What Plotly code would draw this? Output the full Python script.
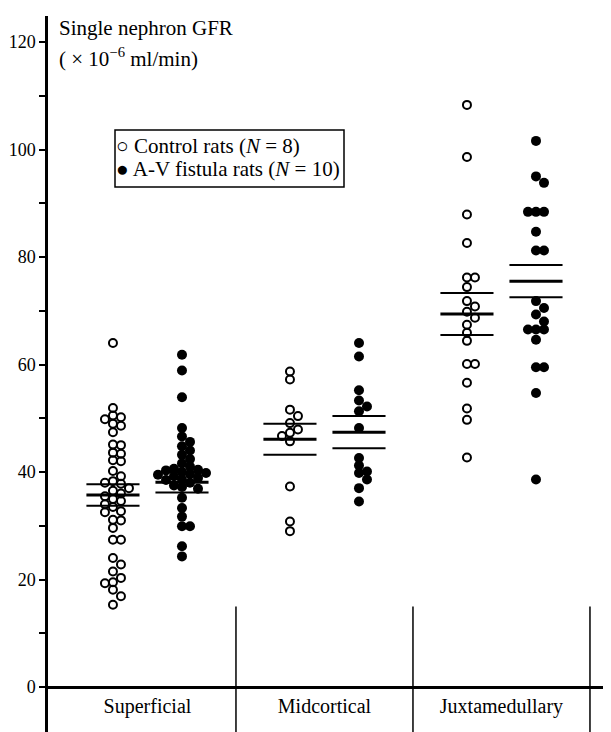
import plotly.graph_objects as go

# ---------------- data ----------------
categories = ["Superficial", "Midcortical", "Juxtamedullary"]

sup_control = [64.0, 51.9, 50.5, 50.2, 49.8, 49.0, 48.6, 47.4, 45.1, 45.0, 43.6, 43.4,
               42.2, 42.0, 40.2, 39.2, 38.3, 38.0, 37.8, 37.0, 36.5, 36.0, 35.5, 35.0,
               34.6, 34.0, 33.5, 32.7, 32.5, 31.1, 31.0, 29.6, 27.4, 27.4, 24.0, 22.8,
               21.5, 20.3, 19.5, 19.3, 18.1, 16.9, 15.3]
sup_fistula = [61.8, 58.9, 53.9, 48.2, 46.6, 45.6, 44.8, 44.0, 43.2, 42.4, 41.6, 41.0,
               40.6, 40.4, 40.3, 40.0, 39.8, 39.6, 39.5, 39.2, 38.9, 38.6, 38.5, 38.0,
               37.5, 37.2, 36.9, 35.2, 33.3, 31.7, 29.9, 29.9, 26.2, 24.3]
mid_control = [58.7, 57.2, 51.6, 50.4, 49.1, 47.9, 47.3, 46.7, 45.7, 37.3, 30.8, 29.0]
mid_fistula = [64.0, 61.5, 55.2, 53.3, 52.2, 51.3, 48.2, 42.6, 41.2, 40.1, 39.8, 38.6,
               37.0, 34.5]
juxta_control = [108.3, 98.6, 87.9, 82.6, 76.2, 76.2, 74.4, 71.8, 70.8, 69.8, 68.7, 67.4,
                 65.9, 64.4, 60.1, 60.1, 56.6, 51.8, 49.7, 42.7]
juxta_fistula = [101.6, 95.0, 93.8, 88.4, 88.4, 88.4, 84.7, 81.2, 81.2, 71.8, 70.5, 69.3,
                 68.0, 66.5, 66.5, 66.5, 64.6, 59.5, 59.5, 54.7, 38.6]

control_mean = [35.7, 46.1, 69.4]
control_se = [2.0, 2.9, 3.9]
fistula_mean = [38.1, 47.4, 75.5]
fistula_se = [1.9, 3.0, 3.0]

y_tick_vals = [0, 20, 40, 60, 80, 100, 120]
y_minor_vals = [10, 30, 50, 70, 90, 110]

control_name = "Control rats (<i>N</i> = 8)"
fistula_name = "A-V fistula rats (<i>N</i> = 10)"
y_title_1 = "Single nephron GFR"
y_title_2 = "( × 10<sup>−6</sup> ml/min)"

# ---------------- layout geometry ----------------
W, H = 611, 732
ML, MR, MT, MB = 40, 0, 8, 0
PW, PH = W - ML - MR, H - MT - MB
X_MIN, X_MAX = -0.562, 2.664
Y_MIN, Y_MAX = -9.86, 124.84
PX_X = PW / (X_MAX - X_MIN)
PX_Y = PH / (Y_MAX - Y_MIN)
GROUP_OFF = 0.195
HALF_W = 0.15
FONT = "Liberation Serif"


def px_to_paper_x(px):
    return (px - ML) / PW


def px_to_paper_y(py):
    return (H - MB - py) / PH


def swarm(values, min_dist=7.0, step=8.0):
    """Simple beeswarm: horizontal offsets (x units) so markers don't overlap too much."""
    placed = []
    offs = []
    for v in values:
        y = v * PX_Y
        chosen = 0.0
        for k in [0, 1, -1, 2, -2, 3, -3, 4, -4]:
            x = k * step
            if all((x - px) ** 2 + (y - py) ** 2 >= min_dist ** 2 for px, py in placed):
                chosen = x
                break
        placed.append((chosen, y))
        offs.append(chosen / PX_X)
    return offs


def points(groups, sign):
    xs, ys = [], []
    for i, vals in enumerate(groups):
        for o, v in zip(swarm(vals), vals):
            xs.append(i + sign * GROUP_OFF + o)
            ys.append(v)
    return xs, ys


def seg_lines(means, ses, sign, which):
    xs, ys = [], []
    for i, (m, s) in enumerate(zip(means, ses)):
        c = i + sign * GROUP_OFF
        vals = [m] if which == "mean" else [m + s, m - s]
        for v in vals:
            xs += [c - HALF_W, c + HALF_W, None]
            ys += [v, v, None]
    return xs, ys


fig = go.Figure()

cx, cy = points([sup_control, mid_control, juxta_control], -1)
fx, fy = points([sup_fistula, mid_fistula, juxta_fistula], +1)

fig.add_trace(go.Scatter(x=cx, y=cy, mode="markers", name=control_name,
                         marker=dict(symbol="circle-open", size=8, color="black",
                                     line=dict(width=2, color="black")),
                         showlegend=False))
fig.add_trace(go.Scatter(x=fx, y=fy, mode="markers", name=fistula_name,
                         marker=dict(symbol="circle", size=10, color="black"),
                         showlegend=False))

for means, ses, sign in [(control_mean, control_se, -1), (fistula_mean, fistula_se, +1)]:
    mx, my = seg_lines(means, ses, sign, "mean")
    sx, sy = seg_lines(means, ses, sign, "se")
    fig.add_trace(go.Scatter(x=mx, y=my, mode="lines", line=dict(color="black", width=3),
                             showlegend=False, hoverinfo="skip"))
    fig.add_trace(go.Scatter(x=sx, y=sy, mode="lines", line=dict(color="black", width=2),
                             showlegend=False, hoverinfo="skip"))

# category dividers below the baseline
for i in range(len(categories)):
    fig.add_shape(type="line", xref="x", yref="y", x0=i + 0.5, x1=i + 0.5,
                  y0=15, y1=Y_MIN, line=dict(color="black", width=1.5))

# legend box
fig.add_shape(type="rect", xref="paper", yref="paper",
              x0=px_to_paper_x(107), x1=px_to_paper_x(336),
              y0=px_to_paper_y(122), y1=px_to_paper_y(179),
              line=dict(color="black", width=1.5), fillcolor="rgba(0,0,0,0)")

zero_pos = (0 - Y_MIN) / (Y_MAX - Y_MIN)
txt_font = dict(family=FONT, size=21, color="black")
title_font = dict(family=FONT, size=21, color="black")

fig.update_layout(
    width=W, height=H,
    margin=dict(l=ML, r=MR, t=MT, b=MB),
    paper_bgcolor="white", plot_bgcolor="white",
    font=dict(family=FONT, color="black", size=17),
    showlegend=False,
    xaxis=dict(range=[X_MIN, X_MAX], tickvals=list(range(len(categories))),
               ticktext=categories, ticks="", showgrid=False, zeroline=False,
               showline=True, linecolor="black", linewidth=2.5,
               anchor="free", position=zero_pos,
               tickfont=dict(family=FONT, size=20, color="black"),
               ticklabelstandoff=0),
    yaxis=dict(range=[Y_MIN, Y_MAX], tickvals=y_tick_vals, ticks="outside",
               ticklen=6, tickwidth=2, tickcolor="black",
               showgrid=False, zeroline=False,
               showline=True, linecolor="black", linewidth=2.5,
               minor=dict(tickvals=y_minor_vals, ticks="outside", ticklen=6,
                          tickwidth=1.5, tickcolor="black"),
               tickfont=dict(family=FONT, size=18, color="black")),
    annotations=[
        dict(text=y_title_1, xref="paper", yref="paper", x=px_to_paper_x(49),
             y=px_to_paper_y(20), xanchor="left", yanchor="middle",
             showarrow=False, font=title_font),
        dict(text=y_title_2, xref="paper", yref="paper", x=px_to_paper_x(49),
             y=px_to_paper_y(49), xanchor="left", yanchor="middle",
             showarrow=False, font=title_font),
        dict(text="○ " + control_name, xref="paper", yref="paper", x=px_to_paper_x(106),
             y=px_to_paper_y(138), xanchor="left", yanchor="middle",
             showarrow=False, font=txt_font),
        dict(text="● " + fistula_name, xref="paper", yref="paper", x=px_to_paper_x(106),
             y=px_to_paper_y(161), xanchor="left", yanchor="middle",
             showarrow=False, font=txt_font),
    ],
)

fig.write_html("out.html")
